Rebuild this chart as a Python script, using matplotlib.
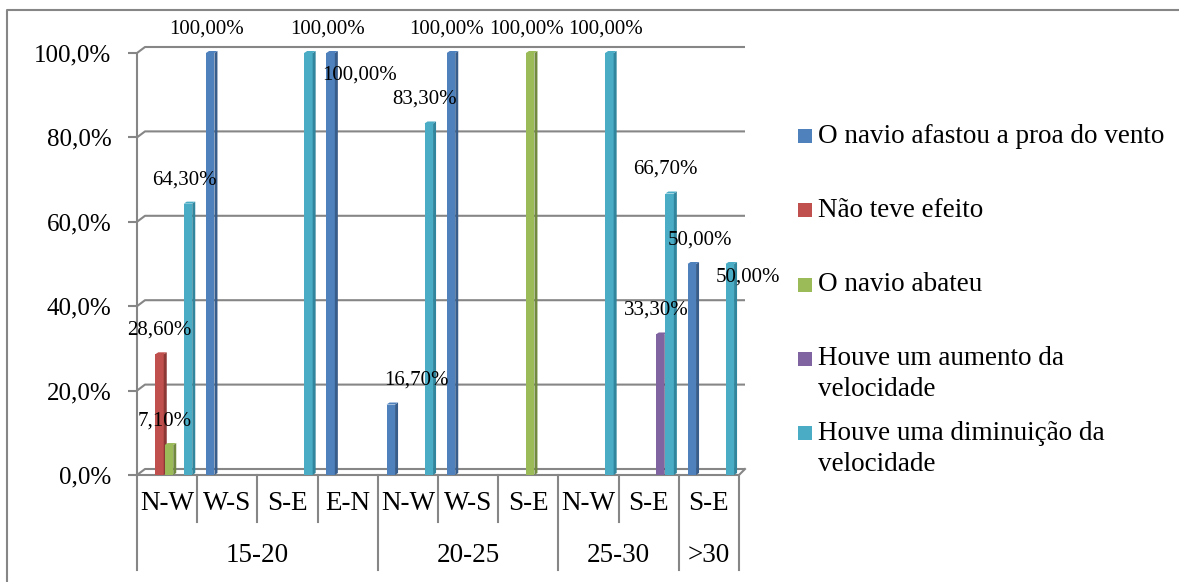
import matplotlib
matplotlib.use("Agg")
import matplotlib.pyplot as plt
from matplotlib.patches import Polygon, Rectangle
from matplotlib.lines import Line2D

plt.rcParams['font.family'] = ['Liberation Serif', 'DejaVu Serif']

# Data
categories = ['N-W', 'W-S', 'S-E', 'E-N', 'N-W', 'W-S', 'S-E', 'N-W', 'S-E', 'S-E']
groups = ['15-20', '20-25', '25-30', '>30']
group_sizes = [4, 3, 2, 1]

series_names = ['O navio afastou a proa do vento',
                'Não teve efeito',
                'O navio abateu',
                'Houve um aumento da\nvelocidade',
                'Houve uma diminuição da\nvelocidade']
afastou = [0, 100, 0, 100, 16.7, 100, 0, 0, 0, 50]
sem_efeito = [28.6, 0, 0, 0, 0, 0, 0, 0, 0, 0]
abateu = [7.1, 0, 0, 0, 0, 0, 100, 0, 0, 0]
aumento = [0, 0, 0, 0, 0, 0, 0, 0, 33.3, 0]
diminuicao = [64.3, 0, 100, 0, 83.3, 0, 0, 100, 66.7, 50]
series = [afastou, sem_efeito, abateu, aumento, diminuicao]

colors = ['#4F81BD', '#C0504D', '#9BBB59', '#8064A2', '#4BACC6']
side_colors = ['#385D8A', '#8C3836', '#71893F', '#5C4776', '#31859C']

yticks = [0, 20, 40, 60, 80, 100]
ytick_labels = ['0,0%', '20,0%', '40,0%', '60,0%', '80,0%', '100,0%']

# manual nudges of data labels (pixels), keyed by (series, category)
label_shift = {(1, 0): (4, 0), (4, 2): (23, 0), (0, 3): (33, -46),
               (0, 4): (30, 0), (0, 9): (12, 0), (4, 9): (22, -37)}

# Layout (pixels)
W, H = 1179, 582
cat_px = 60.2
y0_px = 475
pct_px = 4.22
ymax = 102
ax_top = y0_px - ymax * pct_px

fig = plt.figure(figsize=(W / 100, H / 100), dpi=100)
ax = fig.add_axes([137 / W, 1 - y0_px / H, 608 / W, (y0_px - ax_top) / H])
ax.set_xlim(0, 608 / cat_px)
ax.set_ylim(0, ymax)
for s in ['top', 'right', 'bottom']:
    ax.spines[s].set_visible(False)
grid_c = '#868686'
ax.spines['left'].set_bounds(0, 100)
ax.spines['left'].set_color(grid_c)
ax.spines['left'].set_linewidth(1.5)
ax.set_xticks([])
ax.set_yticks(yticks)
ax.set_yticklabels(ytick_labels, fontsize=18)
ax.tick_params(axis='y', length=6.5, width=1.5, color=grid_c, pad=12)

# 3D depth offsets
dx = 8 / cat_px
dy = 6 / pct_px
ncat = len(categories)
for v in yticks:
    ax.plot([0, dx, 608 / cat_px], [v, v + dy, v + dy], color=grid_c, lw=1.5, zorder=1)
# floor front edge
ax.plot([0, ncat, 608 / cat_px], [0, 0, dy], color=grid_c, lw=1.5, zorder=1, clip_on=False)

# bars
bw = 8.5 / cat_px
sx = 3 / cat_px
sy = 2 / pct_px
for j, vals in enumerate(series):
    for i, v in enumerate(vals):
        if v == 0:
            continue
        xc = i + (13 + 9.5 * j) / cat_px
        xl, xr = xc - bw / 2, xc + bw / 2
        ax.add_patch(Rectangle((xl, 0), bw, v, facecolor=colors[j], edgecolor='none', zorder=3))
        ax.add_patch(Polygon([(xr, 0), (xr + sx, sy), (xr + sx, v + sy), (xr, v)],
                             facecolor=side_colors[j], edgecolor='none', zorder=3))
        ax.add_patch(Polygon([(xl, v), (xr, v), (xr + sx, v + sy), (xl + sx, v + sy)],
                             facecolor=colors[j], edgecolor='none', zorder=3))
        ddx, ddy = label_shift.get((j, i), (0, 0))
        ax.annotate(f"{v:.2f}%".replace('.', ','), (xc, v), xytext=(-4 + ddx, 24 + ddy),
                    textcoords='offset pixels', ha='center', va='center',
                    fontsize=15, annotation_clip=False, zorder=5)

# category axis
trans = ax.get_xaxis_transform()
hpx = y0_px - ax_top


def frac(ypx):
    return (y0_px - ypx) / hpx


for i, c in enumerate(categories):
    ax.text(i + 0.5, frac(503), c, transform=trans, ha='center', va='center', fontsize=19.5)
bounds = [0]
for n in group_sizes:
    bounds.append(bounds[-1] + n)
for i in range(ncat + 1):
    bottom = 570 if i in bounds else 522
    ax.plot([i, i], [frac(y0_px), frac(bottom)], transform=trans, color=grid_c,
            lw=1.5, clip_on=False)
for g, a, b in zip(groups, bounds[:-1], bounds[1:]):
    ax.text((a + b) / 2, frac(555), g, transform=trans, ha='center', va='center', fontsize=19.5)

# legend
for k, (name, col) in enumerate(zip(series_names, colors)):
    yc = 136 + 74.3 * k
    fig.patches.append(Rectangle((798 / W, 1 - (yc + 7) / H), 14 / W, 14 / H,
                                 transform=fig.transFigure, facecolor=col, edgecolor='none'))
    for n, line in enumerate(name.split('\n')):
        fig.text(818 / W, 1 - (yc + 31 * n) / H, line, ha='left', va='center', fontsize=19.5)

# outer chart border (top and left edges visible)
fig.lines.append(Line2D([7 / W, 7 / W, 1.0], [0.0, 1 - 10 / H, 1 - 10 / H],
                        transform=fig.transFigure, color=grid_c, lw=1.5))

fig.savefig('out.png', dpi=100)
